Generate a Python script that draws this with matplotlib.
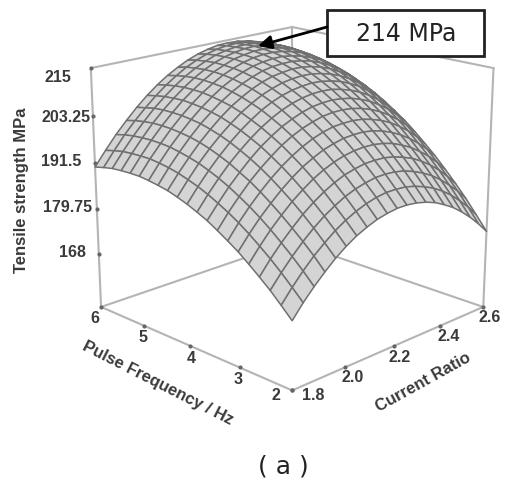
import numpy as np
import matplotlib
matplotlib.use("Agg")
import matplotlib.pyplot as plt

# axis values
current_ratio = [1.80, 1.84, 1.88, 1.92, 1.96, 2.00, 2.04, 2.08, 2.12, 2.16, 2.20,
                 2.24, 2.28, 2.32, 2.36, 2.40, 2.44, 2.48, 2.52, 2.56, 2.60]
pulse_freq = [2.0, 2.2, 2.4, 2.6, 2.8, 3.0, 3.2, 3.4, 3.6, 3.8, 4.0,
              4.2, 4.4, 4.6, 4.8, 5.0, 5.2, 5.4, 5.6, 5.8, 6.0]
ratio_ticks = ['1.8', '2.0', '2.2', '2.4', '2.6']
freq_ticks = ['2', '3', '4', '5', '6']
strength_ticks = [215, 203.25, 191.5, 179.75, 168]
strength_labels = ['215', '203.25', '191.5', '179.75', '168']

# tensile strength, one row per current ratio, columns by frequency
strength = np.array([
    [170.5, 173.1, 175.6, 177.8, 179.9, 181.9, 183.6, 185.2, 186.7, 187.9, 189.0, 189.9, 190.7, 191.2, 191.6, 191.9, 191.9, 191.8, 191.6, 191.1, 190.5],
    [173.7, 176.3, 178.8, 181.1, 183.2, 185.2, 187.0, 188.6, 190.0, 191.3, 192.4, 193.3, 194.1, 194.7, 195.1, 195.4, 195.4, 195.3, 195.1, 194.6, 194.0],
    [176.5, 179.2, 181.7, 184.0, 186.2, 188.2, 190.0, 191.6, 193.1, 194.4, 195.5, 196.5, 197.2, 197.8, 198.3, 198.5, 198.6, 198.5, 198.3, 197.9, 197.3],
    [179.0, 181.8, 184.3, 186.6, 188.8, 190.8, 192.7, 194.4, 195.8, 197.2, 198.3, 199.3, 200.1, 200.7, 201.1, 201.4, 201.5, 201.5, 201.2, 200.8, 200.2],
    [181.3, 184.0, 186.6, 189.0, 191.2, 193.2, 195.1, 196.8, 198.3, 199.6, 200.8, 201.8, 202.6, 203.3, 203.7, 204.0, 204.1, 204.1, 203.9, 203.4, 202.9],
    [183.2, 186.0, 188.6, 191.0, 193.2, 195.3, 197.2, 198.9, 200.5, 201.8, 203.0, 204.0, 204.9, 205.5, 206.0, 206.3, 206.5, 206.4, 206.2, 205.8, 205.3],
    [184.8, 187.6, 190.2, 192.7, 195.0, 197.1, 199.0, 200.8, 202.3, 203.7, 204.9, 206.0, 206.9, 207.5, 208.0, 208.4, 208.5, 208.5, 208.3, 207.9, 207.4],
    [186.0, 188.9, 191.6, 194.1, 196.4, 198.5, 200.5, 202.3, 203.9, 205.3, 206.6, 207.6, 208.5, 209.2, 209.8, 210.1, 210.3, 210.3, 210.1, 209.7, 209.2],
    [187.0, 189.9, 192.6, 195.2, 197.5, 199.7, 201.7, 203.5, 205.1, 206.6, 207.9, 209.0, 209.9, 210.6, 211.2, 211.6, 211.8, 211.8, 211.6, 211.3, 210.7],
    [187.6, 190.6, 193.3, 195.9, 198.3, 200.5, 202.6, 204.4, 206.1, 207.6, 208.9, 210.0, 211.0, 211.7, 212.3, 212.7, 212.9, 213.0, 212.8, 212.5, 212.0],
    [188.0, 191.0, 193.8, 196.4, 198.8, 201.1, 203.2, 205.1, 206.8, 208.3, 209.6, 210.8, 211.8, 212.6, 213.2, 213.6, 213.9, 213.9, 213.8, 213.5, 213.0],
    [188.0, 191.0, 193.9, 196.5, 199.0, 201.3, 203.4, 205.4, 207.1, 208.7, 210.0, 211.2, 212.2, 213.1, 213.7, 214.2, 214.4, 214.5, 214.4, 214.2, 213.7],
    [187.7, 190.8, 193.7, 196.4, 198.9, 201.3, 203.4, 205.4, 207.2, 208.8, 210.2, 211.4, 212.5, 213.3, 214.0, 214.5, 214.8, 214.9, 214.8, 214.6, 214.2],
    [187.1, 190.2, 193.2, 195.9, 198.5, 200.9, 203.1, 205.1, 206.9, 208.6, 210.0, 211.3, 212.4, 213.3, 214.0, 214.5, 214.8, 215.0, 214.9, 214.7, 214.3],
    [186.2, 189.3, 192.3, 195.1, 197.8, 200.2, 202.4, 204.5, 206.4, 208.0, 209.5, 210.8, 212.0, 212.9, 213.6, 214.2, 214.6, 214.7, 214.7, 214.5, 214.2],
    [184.9, 188.2, 191.2, 194.1, 196.7, 199.2, 201.5, 203.6, 205.5, 207.2, 208.8, 210.1, 211.3, 212.3, 213.0, 213.6, 214.0, 214.2, 214.3, 214.1, 213.8],
    [183.4, 186.7, 189.8, 192.7, 195.4, 197.9, 200.3, 202.4, 204.4, 206.1, 207.7, 209.1, 210.3, 211.3, 212.1, 212.8, 213.2, 213.5, 213.5, 213.4, 213.1],
    [181.5, 184.9, 188.0, 191.0, 193.7, 196.3, 198.7, 200.9, 202.9, 204.7, 206.4, 207.8, 209.0, 210.1, 211.0, 211.6, 212.1, 212.4, 212.5, 212.4, 212.1],
    [179.3, 182.7, 185.9, 189.0, 191.8, 194.4, 196.9, 199.1, 201.2, 203.0, 204.7, 206.2, 207.5, 208.6, 209.5, 210.2, 210.7, 211.0, 211.2, 211.1, 210.9],
    [176.8, 180.3, 183.6, 186.6, 189.5, 192.2, 194.7, 197.0, 199.1, 201.0, 202.8, 204.3, 205.6, 206.8, 207.7, 208.5, 209.0, 209.4, 209.5, 209.5, 209.3],
    [174.0, 177.5, 180.9, 184.0, 186.9, 189.7, 192.2, 194.6, 196.8, 198.7, 200.5, 202.1, 203.5, 204.7, 205.7, 206.5, 207.1, 207.5, 207.7, 207.7, 207.5],
])

z0, z1 = 154, 215
bold = dict(family='Liberation Sans', fontweight='bold', color='#3a3a3a')
line_c = '#b4b4b4'

fig = plt.figure(figsize=(5.05, 4.86), dpi=100)
ax = fig.add_axes([33.1 / 505, 45.8 / 486, 1, 1], projection='3d', computed_zorder=False)
ax.set_xlim(1.8, 2.6, view_margin=0)
ax.set_ylim(2, 6, view_margin=0)
ax.set_zlim(z0, z1, view_margin=0)
ax.set_axis_off()
ax.view_init(elev=17.99, azim=-135)
ax.set_proj_type('persp', focal_length=0.565)
ax.set_box_aspect((1, 1, 0.905), zoom=0.93)

# box edges behind the surface
for xs, ys, zs in [([1.8, 2.6], [6, 6], [z0, z0]), ([2.6, 2.6], [2, 6], [z0, z0]),
                   ([1.8, 1.8], [6, 6], [z0, z1]), ([2.6, 2.6], [2, 2], [z0, z1]),
                   ([2.6, 2.6], [6, 6], [z0, z1]), ([1.8, 2.6], [6, 6], [z1, z1]),
                   ([2.6, 2.6], [2, 6], [z1, z1]), ([1.8, 1.8], [2, 6], [z0, z0]),
                   ([1.8, 2.6], [2, 2], [z0, z0])]:
    ax.plot(xs, ys, zs, color=line_c, lw=1.5, zorder=1)

# tick dots
tv = [float(t) for t in ratio_ticks]
ax.plot(tv, [2] * 5, [z0] * 5, ls='', marker='o', ms=2, color='#666666', zorder=1)
tv = [float(t) for t in freq_ticks]
ax.plot([1.8] * 5, tv, [z0] * 5, ls='', marker='o', ms=2, color='#666666', zorder=1)
ax.plot([1.8] * 5, [6] * 5, strength_ticks, ls='', marker='o', ms=2, color='#666666', zorder=1)

R, F = np.meshgrid(current_ratio, pulse_freq, indexing='ij')
ax.plot_surface(R, F, strength, rstride=1, cstride=1, color='#d4d4d4', edgecolor='#707070',
                linewidth=1.1, shade=False, zorder=2)

# flat overlay in pixels for the labels
ov = fig.add_axes([0, 0, 1, 1], zorder=5)
ov.set_xlim(0, 505)
ov.set_ylim(486, 0)
ov.axis('off')

for s, xy in zip(strength_labels, [(58, 77), (66, 117), (61, 161), (68, 207), (72, 252)]):
    ov.text(xy[0], xy[1], s, ha='center', va='center', fontsize=11.5, **bold)
for s, xy in zip(freq_ticks, [(276, 395), (238, 379), (191, 358), (143, 337), (95, 318)]):
    ov.text(xy[0], xy[1], s, ha='center', va='center', fontsize=11.5, **bold)
for s, xy in zip(ratio_ticks, [(313, 395), (353, 377), (400, 357), (449, 336), (490, 317)]):
    ov.text(xy[0], xy[1], s, ha='center', va='center', fontsize=11.5, **bold)

ov.text(22, 190, 'Tensile strength MPa', rotation=90, ha='center', va='center', fontsize=12, **bold)
ov.text(158, 383, 'Pulse Frequency / Hz', rotation=-27, ha='center', va='center',
        rotation_mode='anchor', fontsize=12, **bold)
ov.text(423, 382, 'Current Ratio', rotation=29, ha='center', va='center',
        rotation_mode='anchor', fontsize=12, **bold)

# callout
ov.add_patch(plt.Rectangle((327, 10), 157, 46, fc='white', ec='#222222', lw=2))
ov.text(406, 34, '214 MPa', ha='center', va='center', fontsize=17, color='#222222', family='DejaVu Sans')
ov.annotate('', xy=(258, 46), xytext=(327, 27),
            arrowprops=dict(arrowstyle='-|>', color='black', lw=2, mutation_scale=20, shrinkA=0, shrinkB=0))
ov.text(283, 466, '( a )', ha='center', va='center', fontsize=18, color='#222222', family='DejaVu Sans')

fig.savefig("out.png", dpi=100)
